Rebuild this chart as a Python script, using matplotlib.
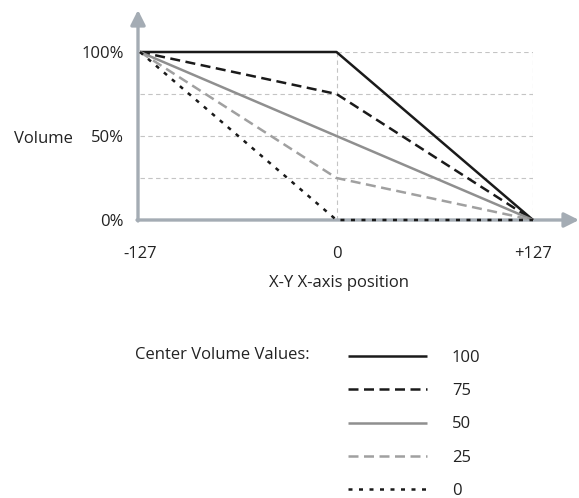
import matplotlib
matplotlib.use("Agg")
import matplotlib.pyplot as plt

plt.rcParams['font.family'] = ['Open Sans', 'DejaVu Sans']

# ---- data ----
x_pos = [-127, 0, 127]
series_names = ["100", "75", "50", "25", "0"]
vol_100 = [100, 100, 0]
vol_75 = [100, 75, 0]
vol_50 = [100, 50, 0]
vol_25 = [100, 25, 0]
vol_0 = [100, 0, 0]
x_ticks = [-127, 0, 127]
x_tick_labels = ["-127", "0", "+127"]
y_ticks = [0, 50, 100]
y_tick_labels = ["0%", "50%", "100%"]

W, H = 579, 498
fig = plt.figure(figsize=(W / 100, H / 100), dpi=100)

# plotting area in pixels
L, R, T, B = 140, 533, 52, 220
ax = fig.add_axes([L / W, 1 - B / H, (R - L) / W, (B - T) / H])
ax.set_xlim(-127, 127)
ax.set_ylim(0, 100)
for s in ax.spines.values():
    s.set_visible(False)
ax.patch.set_visible(False)

grid_c = "#c4c4c4"
gkw = dict(colors=grid_c, linewidth=0.8, linestyles=(0, (4, 3)), zorder=1)
ax.hlines([25, 50, 75], -127, 127, **gkw)
ax.hlines([100], 0, 127, **gkw)
ax.vlines([0, 127], 0, 100, **gkw)

# axes arrows
axis_c = "#a4acb4"
dxpx = 254 / (R - L)
dypx = 100 / (B - T)
ax.annotate("", xy=(127 + 46 * dxpx, 0), xytext=(-127 - 3 * dxpx, 0),
            arrowprops=dict(arrowstyle="-|>", color=axis_c, lw=2.4,
                            mutation_scale=22, shrinkA=0, shrinkB=0),
            annotation_clip=False, zorder=2)
ax.annotate("", xy=(-127 - 2 * dxpx, 100 + 42 * dypx), xytext=(-127 - 2 * dxpx, -1 * dypx),
            arrowprops=dict(arrowstyle="-|>", color=axis_c, lw=2.4,
                            mutation_scale=22, shrinkA=0, shrinkB=0),
            annotation_clip=False, zorder=2)

black = "#1a1a1a"
gray = "#8f8f8f"
lgray = "#a0a0a0"
styles = [
    dict(color=black, lw=1.8, ls="-"),
    dict(color=black, lw=1.8, ls=(0, (4, 2.2))),
    dict(color=gray, lw=1.8, ls="-"),
    dict(color=lgray, lw=1.8, ls=(0, (4, 2.2))),
    dict(color=black, lw=1.8, ls=(0, (1.6, 2.6))),
]
data = [vol_100, vol_75, vol_50, vol_25, vol_0]
handles = []
for name, ys, st in zip(series_names, data, styles):
    h, = ax.plot(x_pos, ys, label=name, clip_on=False, zorder=3,
                 solid_capstyle="butt", dash_capstyle="butt", **st)
    handles.append(h)

fs = 12
tc = "#222222"
ax.set_xticks(x_ticks, x_tick_labels)
ax.set_yticks(y_ticks, y_tick_labels)
ax.tick_params(axis="both", length=0, labelsize=fs, colors=tc)
ax.tick_params(axis="x", pad=18.5)
ax.tick_params(axis="y", pad=11.5)

fig.text(43 / W, 1 - 139 / H, "Volume", ha="center", va="center", fontsize=fs, color=tc)
fig.text(339 / W, 1 - 283 / H, "X-Y X-axis position", ha="center", va="center", fontsize=fs, color=tc)
fig.text(310 / W, 1 - 355 / H, "Center Volume Values:", ha="right", va="center", fontsize=fs, color=tc)

leg = fig.legend(handles=handles, labels=series_names, loc="upper left",
                 bbox_to_anchor=(348 / W, 1 - 350 / H), frameon=False,
                 fontsize=fs, handlelength=4.73, handletextpad=1.5,
                 labelspacing=1.03, borderaxespad=0, borderpad=0)
for t in leg.get_texts():
    t.set_color(tc)

fig.savefig("out.png", dpi=100)
